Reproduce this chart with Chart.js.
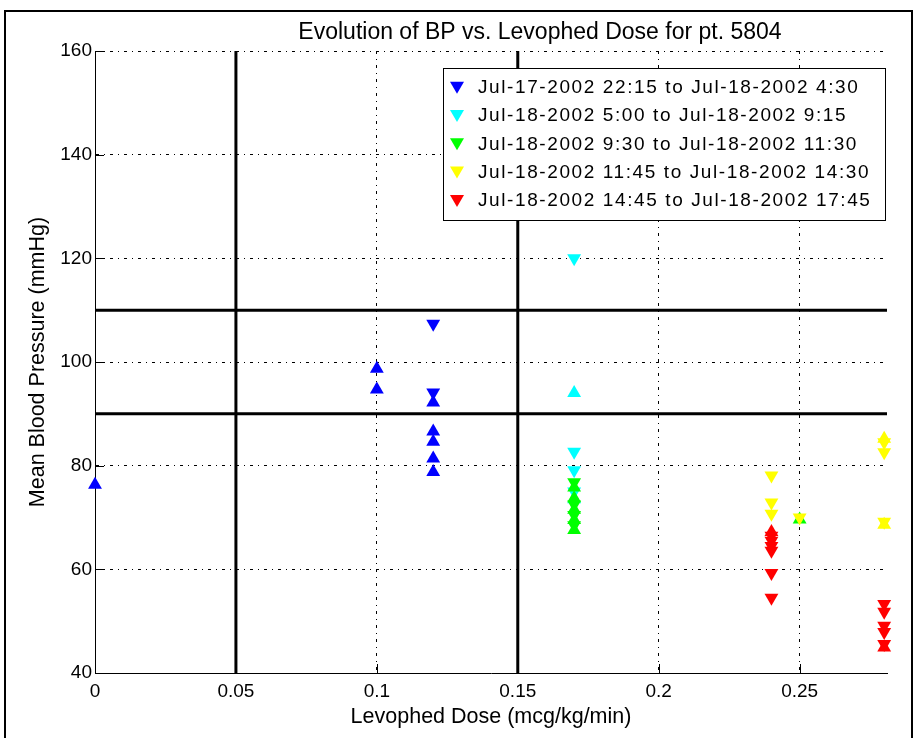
<!DOCTYPE html>
<html>
<head>
<meta charset="utf-8">
<style>
  html, body { margin: 0; padding: 0; background: #fff; }
  #wrap { width: 914px; height: 738px; }
</style>
<script src="https://cdn.jsdelivr.net/npm/chart.js@4.4.1/dist/chart.umd.min.js"></script>
</head>
<body>
<div id="wrap"><canvas id="bp" width="914" height="738"></canvas></div>
<script>
/* Evolution of BP vs. Levophed dose — MATLAB-style scatter, up/down triangles */
const periods = [
  "Jul-17-2002 22:15 to Jul-18-2002 4:30",
  "Jul-18-2002 5:00 to Jul-18-2002 9:15",
  "Jul-18-2002 9:30 to Jul-18-2002 11:30",
  "Jul-18-2002 11:45 to Jul-18-2002 14:30",
  "Jul-18-2002 14:45 to Jul-18-2002 17:45"
];
const periodColors = ["#0000ff", "#00ffff", "#00ff00", "#ffff00", "#ff0000"];

// [dose, mean BP] pairs; "up" = ▲ marker, "down" = ▼ marker
const p1Up   = [[0, 76.3], [0.1, 98.7], [0.1, 94.7], [0.12, 92.2], [0.12, 86.6], [0.12, 84.6], [0.12, 81.4], [0.12, 78.8]];
const p1Down = [[0.12, 107.4], [0.12, 94.1]];
const p2Up   = [[0.17, 94], [0.17, 73.5]];
const p2Down = [[0.17, 120], [0.17, 82.7], [0.17, 79.1], [0.17, 75]];
const p3Up   = [[0.17, 75.8], [0.17, 73.7], [0.17, 71.5], [0.17, 69.5], [0.17, 67.6], [0.25, 69.6]];
const p3Down = [[0.17, 76.8], [0.17, 72.5], [0.17, 70.5], [0.17, 68.5]];
const p4Up   = [[0.28, 85.2], [0.28, 68.6]];
const p4Down = [[0.24, 78.1], [0.24, 72.9], [0.24, 70.7], [0.25, 70], [0.28, 84.5], [0.28, 82.6], [0.28, 69.2]];
const p5Up   = [[0.24, 67.2], [0.28, 44.9]];
const p5Down = [[0.24, 66.5], [0.24, 65.5], [0.24, 64.5], [0.24, 63.6], [0.24, 59.3], [0.24, 54.5],
                [0.28, 53.3], [0.28, 51.8], [0.28, 49.1], [0.28, 47.9], [0.28, 45.6]];

const upSets = [p1Up, p2Up, p3Up, p4Up, p5Up];
const downSets = [p1Down, p2Down, p3Down, p4Down, p5Down];

const doseTicks = [0, 0.05, 0.1, 0.15, 0.2, 0.25];
const bpTicks = [40, 60, 80, 100, 120, 140, 160];
const doseRange = [0, 0.281];
const bpRange = [40, 160];
const doseLimits = [0.05, 0.15];   // thick vertical lines
const bpLimits = [90, 110];        // thick horizontal lines

const FONT = "'Liberation Sans', Arial, sans-serif";

function pts(arr) { return arr.map(function (p) { return { x: p[0], y: p[1] }; }); }

const datasets = [];
periods.forEach(function (label, i) {
  datasets.push({
    label: label, data: pts(downSets[i]), legendRow: i, clip: false,
    pointStyle: "triangle", pointRotation: 180, pointRadius: 8, pointHoverRadius: 8,
    backgroundColor: periodColors[i], borderColor: periodColors[i], borderWidth: 0,
    order: -i
  });
  datasets.push({
    label: label + " (up)", data: pts(upSets[i]), clip: false,
    pointStyle: "triangle", pointRotation: 0, pointRadius: 8, pointHoverRadius: 8,
    backgroundColor: periodColors[i], borderColor: periodColors[i], borderWidth: 0,
    order: -i
  });
});
bpLimits.forEach(function (v) {
  datasets.push({ data: [{ x: doseRange[0], y: v }, { x: doseRange[1], y: v }], showLine: true,
    borderColor: "#000", borderWidth: 3, pointRadius: 0, order: 10 });
});
doseLimits.forEach(function (v) {
  datasets.push({ data: [{ x: v, y: bpRange[0] }, { x: v, y: bpRange[1] }], showLine: true,
    borderColor: "#000", borderWidth: 3, pointRadius: 0, order: 10 });
});

// legend box drawn inside the axes, like MATLAB's
const boxLegend = {
  id: "boxLegend",
  afterDatasetsDraw: function (chart) {
    const ctx = chart.ctx;
    const x = 443, y = 68, w = 442, h = 152, row = 28.3;
    ctx.save();
    ctx.fillStyle = "#fff";
    ctx.fillRect(x, y, w, h);
    ctx.strokeStyle = "#000"; ctx.lineWidth = 1;
    ctx.strokeRect(x + 0.5, y + 0.5, w, h);
    ctx.font = "19px " + FONT;
    ctx.textBaseline = "middle";
    if ("letterSpacing" in ctx) ctx.letterSpacing = "1.6px";
    chart.data.datasets.forEach(function (ds) {
      if (ds.legendRow === undefined) return;
      const cy = y + 18.7 + ds.legendRow * row;
      ctx.fillStyle = ds.backgroundColor;
      ctx.beginPath();
      ctx.moveTo(450, cy - 5); ctx.lineTo(464, cy - 5); ctx.lineTo(457, cy + 7);
      ctx.closePath(); ctx.fill();
      ctx.fillStyle = "#000";
      ctx.fillText(ds.label, 478, cy + 1);
    });
    ctx.restore();
  }
};

// title, inward tick marks and outer frame
const decor = {
  id: "decor",
  afterDraw: function (chart) {
    const ctx = chart.ctx, a = chart.chartArea;
    const xs = chart.scales.x, ys = chart.scales.y;
    ctx.save();
    ctx.strokeStyle = "#000"; ctx.lineWidth = 1;
    ctx.beginPath();
    ys.ticks.forEach(function (t) {
      const py = Math.round(ys.getPixelForValue(t.value)) + 0.5;
      ctx.moveTo(a.left, py); ctx.lineTo(a.left + 9, py);
    });
    xs.ticks.forEach(function (t) {
      const px = Math.round(xs.getPixelForValue(t.value)) + 0.5;
      ctx.moveTo(px, a.bottom); ctx.lineTo(px, a.bottom - 9);
    });
    ctx.stroke();
    ctx.fillStyle = "#000";
    ctx.font = "23px " + FONT;
    ctx.textAlign = "center"; ctx.textBaseline = "middle";
    ctx.fillText("Evolution of BP vs. Levophed Dose for pt. 5804", 540, 33);
    ctx.lineWidth = 2;
    ctx.strokeRect(5, 11, 907, 740);
    ctx.restore();
  }
};

new Chart(document.getElementById("bp"), {
  type: "scatter",
  data: { datasets: datasets },
  options: {
    responsive: false, animation: false, devicePixelRatio: 1,
    layout: { padding: { top: 51, right: 27, bottom: 0, left: 0 } },
    plugins: { legend: { display: false }, tooltip: { enabled: false }, title: { display: false } },
    scales: {
      x: {
        type: "linear", min: doseRange[0], max: doseRange[1],
        afterBuildTicks: function (s) { s.ticks = doseTicks.map(function (v) { return { value: v }; }); },
        afterFit: function (s) { s.height = 65; },
        grid: { color: "#000", lineWidth: 1, drawTicks: false },
        border: { display: true, color: "#000", width: 1, dash: [3, 5, 1, 5] },
        ticks: { color: "#000", padding: 7, maxRotation: 0, font: { family: FONT, size: 19 },
          callback: function (v) { return String(v); } },
        title: { display: true, text: "Levophed Dose (mcg/kg/min)", color: "#000",
          font: { family: FONT, size: 21.5 }, padding: { top: 0, bottom: 8 } }
      },
      y: {
        type: "linear", min: bpRange[0], max: bpRange[1],
        afterBuildTicks: function (s) { s.ticks = bpTicks.map(function (v) { return { value: v }; }); },
        afterFit: function (s) { s.width = 95; },
        grid: { color: "#000", lineWidth: 1, drawTicks: false },
        border: { display: true, color: "#000", width: 1, dash: [3, 5, 1, 5] },
        ticks: { color: "#000", padding: 3, font: { family: FONT, size: 19 } },
        title: { display: true, text: "Mean Blood Pressure (mmHg)", color: "#000",
          font: { family: FONT, size: 21.5 }, padding: { top: 25, bottom: 0 } }
      }
    }
  },
  plugins: [boxLegend, decor]
});
</script>
</body>
</html>
